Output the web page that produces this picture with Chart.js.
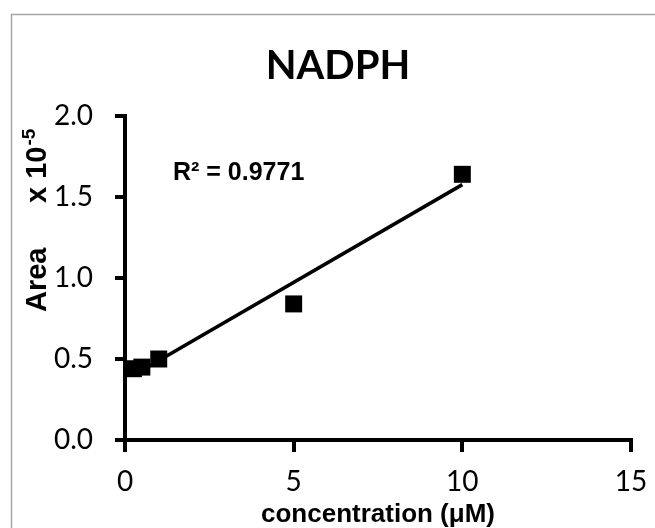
<!DOCTYPE html>
<html>
<head>
<meta charset="utf-8">
<script src="https://cdn.jsdelivr.net/npm/chart.js@4/dist/chart.umd.min.js"></script>
<style>
  html, body { margin: 0; padding: 0; background: #fff; }
  #wrap { width: 655px; height: 528px; position: relative; }
</style>
</head>
<body>
<div id="wrap"><canvas id="c" width="655" height="528"></canvas></div>
<script>
// ---- data ----
const chartTitle = 'NADPH';
const xTitle = 'concentration (μM)';
const yTitleMain = 'Area';
const yTitleScale = 'x 10';
const yTitleExp = '-5';
const r2Label = 'R² = 0.9771';

const concentration = [0.25, 0.5, 1, 5, 10];      // µM
const area = [0.44, 0.45, 0.50, 0.84, 1.64];       // ×10^-5

const xTicks = [0, 5, 10, 15];
const yTicks = [0.0, 0.5, 1.0, 1.5, 2.0];

// ---- linear least-squares trendline derived from the data ----
function linFit(xs, ys) {
  const n = xs.length;
  const mx = xs.reduce((a, b) => a + b, 0) / n;
  const my = ys.reduce((a, b) => a + b, 0) / n;
  let sxy = 0, sxx = 0;
  for (let i = 0; i < n; i++) { sxy += (xs[i] - mx) * (ys[i] - my); sxx += (xs[i] - mx) ** 2; }
  const slope = sxy / sxx;
  return { slope, intercept: my - slope * mx };
}
const fit = linFit(concentration, area);
const xMin = Math.min(...concentration), xMax = Math.max(...concentration);
const trend = [
  { x: xMin, y: fit.intercept + fit.slope * xMin },
  { x: xMax, y: fit.intercept + fit.slope * xMax }
];
const points = concentration.map((x, i) => ({ x, y: area[i] }));

// ---- decorations plugin (frame, title, y title, R² label) ----
const deco = {
  id: 'deco',
  beforeDraw(chart) {
    const ctx = chart.ctx;
    ctx.save();
    ctx.fillStyle = '#fff';
    ctx.fillRect(0, 0, chart.width, chart.height);
    ctx.strokeStyle = '#a6a6a6';
    ctx.lineWidth = 1.5;
    ctx.strokeRect(11.5, 14.5, 700, 600);
    ctx.restore();
  },
  afterDraw(chart) {
    const ctx = chart.ctx;
    ctx.save();
    ctx.fillStyle = '#000';
    // chart title
    ctx.font = 'bold 40px Lato';
    ctx.textAlign = 'center';
    ctx.textBaseline = 'alphabetic';
    ctx.fillText(chartTitle, 338, 79);
    // R² label
    ctx.font = 'bold 25px "Liberation Sans"';
    ctx.textAlign = 'left';
    ctx.fillText(r2Label, 173, 180);
    // rotated y title
    ctx.translate(46, 312);
    ctx.rotate(-Math.PI / 2);
    ctx.font = 'bold 29px "Liberation Sans"';
    ctx.fillText(yTitleMain, 0, 0);
    const start = 109;
    ctx.fillText(yTitleScale, start, 0);
    const w = ctx.measureText(yTitleScale).width;
    ctx.font = 'bold 19px "Liberation Sans"';
    ctx.fillText(yTitleExp, start + w + 1, -11);
    ctx.restore();
  }
};

new Chart(document.getElementById('c'), {
  data: {
    datasets: [
      {
        type: 'scatter',
        label: 'Area',
        data: points,
        pointStyle: 'rect',
        pointRadius: 12,
        pointHoverRadius: 12,
        backgroundColor: '#000',
        borderColor: '#000',
        borderWidth: 0,
        order: 0
      },
      {
        type: 'line',
        label: 'Linear fit',
        data: trend,
        borderColor: '#000',
        borderWidth: 3.5,
        pointRadius: 0,
        fill: false,
        order: 1
      }
    ]
  },
  options: {
    responsive: false,
    animation: false,
    devicePixelRatio: 1,
    layout: { padding: { left: 0, right: 24, top: 116, bottom: 0 } },
    plugins: {
      legend: { display: false },
      tooltip: { enabled: false },
      title: { display: false }
    },
    scales: {
      x: {
        type: 'linear',
        min: xTicks[0],
        max: xTicks[xTicks.length - 1],
        afterFit(s) { s.height = 88; s.paddingRight = 0; s.paddingLeft = 0; },
        afterBuildTicks(s) { s.ticks = xTicks.map(v => ({ value: v })); },
        grid: { drawOnChartArea: false, drawTicks: true, tickLength: 12, color: '#000', lineWidth: 4 },
        border: { display: true, color: '#000', width: 4 },
        ticks: {
          autoSkip: false,
          maxRotation: 0,
          padding: 13,
          color: '#000',
          font: { family: 'Lato', size: 28 },
          callback: v => String(v)
        },
        title: {
          display: true,
          text: xTitle,
          color: '#000',
          font: { family: 'Liberation Sans', size: 26, weight: 'bold', lineHeight: 1.0 },
          padding: { top: 0, bottom: 0 }
        }
      },
      y: {
        type: 'linear',
        min: yTicks[0],
        max: yTicks[yTicks.length - 1],
        afterFit(s) { s.width = 125; },
        afterBuildTicks(s) { s.ticks = yTicks.map(v => ({ value: v })); },
        grid: { drawOnChartArea: false, drawTicks: true, tickLength: 10, color: '#000', lineWidth: 4 },
        border: { display: true, color: '#000', width: 4 },
        ticks: {
          autoSkip: false,
          padding: 22,
          color: '#000',
          font: { family: 'Lato', size: 28 },
          callback: v => Number(v).toFixed(1)
        }
      }
    }
  },
  plugins: [deco]
});
</script>
</body>
</html>
